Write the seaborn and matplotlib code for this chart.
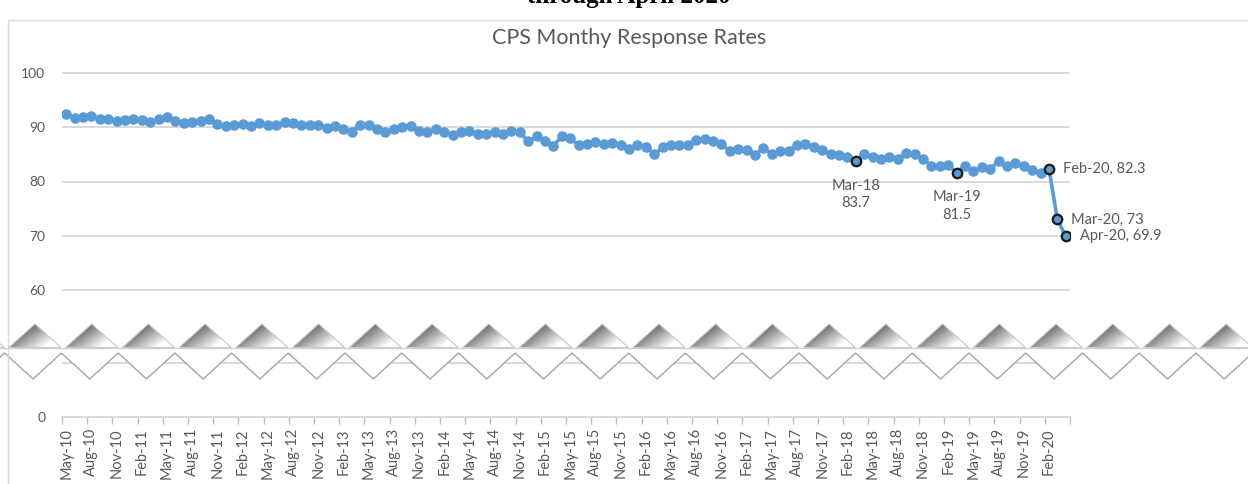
import numpy as np
import pandas as pd
import matplotlib.pyplot as plt
import seaborn as sns
from matplotlib.path import Path
from matplotlib.patches import PathPatch, Rectangle

sns.set_theme(style="white")
plt.rcParams['font.family'] = ['Lato', 'DejaVu Sans']

# CPS monthly response rate, May-10 .. Apr-20
months = pd.date_range("2010-05-01", "2020-04-01", freq="MS").strftime("%b-%y").tolist()
rates = [
    92.4, 91.7, 91.8, 92.0, 91.6, 91.5, 91.2, 91.3, 91.5, 91.3, 90.9, 91.5,
    91.9, 91.2, 90.8, 90.9, 91.1, 91.5, 90.6, 90.2, 90.4, 90.6, 90.2, 90.8,
    90.4, 90.4, 90.9, 90.8, 90.4, 90.4, 90.5, 89.9, 90.2, 89.6, 89.2, 90.4,
    90.4, 89.6, 89.2, 89.6, 90.0, 90.2, 89.4, 89.2, 89.6, 89.2, 88.5, 89.1,
    89.4, 88.8, 88.8, 89.1, 88.8, 89.4, 89.1, 87.4, 88.3, 87.5, 86.6, 88.3,
    88.0, 86.7, 86.9, 87.3, 86.9, 87.1, 86.7, 86.0, 86.7, 86.4, 85.0, 86.3,
    86.8, 86.8, 86.7, 87.6, 87.9, 87.4, 86.9, 85.6, 85.9, 85.8, 84.8, 86.2,
    85.1, 85.6, 85.7, 86.7, 86.9, 86.3, 85.8, 85.0, 84.8, 84.6, 83.7, 85.1,
    84.5, 84.2, 84.5, 84.2, 85.3, 85.0, 84.2, 82.9, 82.9, 83.1, 81.5, 82.9,
    81.9, 82.7, 82.3, 83.7, 82.9, 83.4, 82.9, 82.2, 81.5, 82.3, 73.0, 69.9,
]
callouts_below = ["Mar-18", "Mar-19"]
callouts_right = ["Feb-20", "Mar-20", "Apr-20"]
top_ticks = [60, 70, 80, 90, 100]

df = pd.DataFrame({"month": months, "rate": rates})
df["i"] = np.arange(len(df))

W, H = 1248, 484
BLUE = "#5B9BD5"
GREY_TXT = "#595959"
GRID = "#D9D9D9"


def fy(p):
    return 1 - p / H


fig = plt.figure(figsize=(W / 100, H / 100), dpi=100)

# chart border
fig.add_artist(Rectangle((8 / W, -0.1), 1.2, fy(20) + 0.1, transform=fig.transFigure,
                         fill=False, edgecolor=GRID, lw=1))
fig.text(629 / W, fy(3), "through April 2020", ha="center", va="baseline",
         fontsize=18, fontweight="bold", family="Liberation Serif", color="black")
fig.text(629 / W, fy(38), "CPS Monthy Response Rates", ha="center", va="center",
         fontsize=15.5, color=GREY_TXT)

# upper panel with the data
ax = fig.add_axes([62 / W, fy(347), 1008 / W, (347 - 65) / H])
sns.lineplot(data=df, x="i", y="rate", ax=ax, color=BLUE, lw=2.6, marker="o",
             markersize=7.6, markeredgewidth=0)
hl = df[df["month"].isin(callouts_below + callouts_right)]
sns.scatterplot(data=hl, x="i", y="rate", ax=ax, s=46, color=BLUE,
                edgecolor="#1F1F1F", linewidth=1.7, zorder=5)
ax.set_xlim(-0.5, len(df) - 0.5)
ax.set_ylim(100 - (347 - 73) / 5.425, 100 + 8 / 5.425)
ax.set_yticks(top_ticks)
ax.set_xticks([])
ax.set_xlabel("")
ax.set_ylabel("")
ax.tick_params(axis="y", length=0, pad=12, labelsize=10, labelcolor=GREY_TXT)
ax.grid(axis="y", color=GRID, lw=1.4)
ax.set_axisbelow(True)
sns.despine(ax=ax, left=True, bottom=True)

for _, r in hl.iterrows():
    if r["month"] in callouts_below:
        ax.annotate(f"{r['month']}\n{r['rate']:g}", (r["i"], r["rate"]),
                    xytext=(0, -33), textcoords="offset pixels", ha="center",
                    va="center", fontsize=10.5, color=GREY_TXT, linespacing=1.35)
    else:
        ax.annotate(f"{r['month']}, {r['rate']:g}", (r["i"], r["rate"]),
                    xytext=(14, 0), textcoords="offset pixels", ha="left",
                    va="center", fontsize=10.5, color=GREY_TXT)

# lower panel: zero line and month axis
ax_b = fig.add_axes([62 / W, fy(417), 1008 / W, (417 - 352) / H])
ax_b.set_xlim(-0.5, len(df) - 0.5)
ax_b.set_ylim(0, 60)
ax_b.set_yticks([0, 50], ["0", ""])
ax_b.grid(axis="y", color=GRID, lw=1.4)
sns.despine(ax=ax_b, left=True)
ax_b.spines["bottom"].set_color(GRID)
ax_b.spines["bottom"].set_linewidth(1.4)
ax_b.set_xticks(np.arange(-0.5, len(df), 3))
ax_b.set_xticklabels([])
ax_b.set_xticks(df["i"][::3], df["month"][::3], minor=True)
ax_b.tick_params(axis="x", which="major", bottom=True, length=5, width=1, color="#BFBFBF")
ax_b.tick_params(axis="x", which="minor", bottom=True, length=0, pad=8,
                 labelsize=10.5, labelcolor=GREY_TXT, labelrotation=90)
ax_b.tick_params(axis="y", length=0, pad=12, labelsize=10, labelcolor=GREY_TXT)

# axis-break decoration
ax_z = fig.add_axes([0, fy(388), 1, (388 - 318) / H])
ax_z.set_xlim(0, W)
ax_z.set_ylim(388, 318)
ax_z.axis("off")
period = W / 22
half, ytop, ybase = 26, 324, 347.5
peaks = 35 + period * np.arange(-1, 24)

zz_x, zz_y = [], []
for p in peaks:
    zz_x += [p - 2, p + period / 2 - 2]
    zz_y += [379, 353]
zz_x, zz_y = np.array(zz_x), np.array(zz_y)
ax_z.fill(np.r_[-20, zz_x, W + 20], np.r_[ybase, zz_y, ybase], color="white", lw=0)
ax_z.fill_between([0, W], ybase, 353, color="white", lw=0)
ax_z.plot(zz_x, zz_y, color="#A6A6A6", lw=1)
ax_z.plot([0, W], [ybase, ybase], color="#D0D0D0", lw=1)

xs = np.arange(W) + 0.5
ys = np.arange(ytop, ybase + 1) + 0.5
gx, gy = np.meshgrid(xs, ys)
near = np.round((gx - 35) / period)
u = (gx - (35 + near * period)) / half
t = (gy - ytop) / (ybase - ytop)
shade = 0.38 + 0.62 * np.clip(0.75 * t + 0.55 * u + 0.05, 0, 1)
im = ax_z.imshow(shade, cmap="gray", vmin=0, vmax=1, aspect="auto",
                 extent=(0, W, ybase + 1, ytop), interpolation="bilinear")
tris = [Path([(p - half, ybase), (p, ytop), (p + half, ybase), (p - half, ybase)]) for p in peaks]
tri_patch = PathPatch(Path.make_compound_path(*tris), facecolor="none",
                      edgecolor="#C8C8C8", lw=0.8, transform=ax_z.transData)
ax_z.add_patch(tri_patch)
im.set_clip_path(tri_patch)

fig.savefig("out.png", dpi=100, facecolor="white")
